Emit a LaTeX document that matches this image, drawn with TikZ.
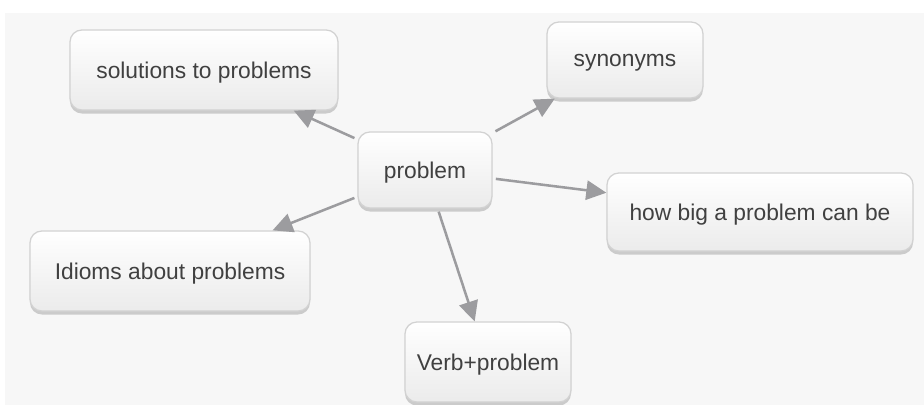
\documentclass[tikz,border=0pt]{standalone}
\usepackage{fontspec}
\setmainfont{Liberation Sans}
\usetikzlibrary{arrows.meta, positioning, shadows}
\definecolor{canvas}{HTML}{F7F7F7}
\definecolor{boxline}{HTML}{D2D2D2}
\definecolor{boxbot}{HTML}{EBEBEB}
\definecolor{ink}{HTML}{404040}
\definecolor{linkgray}{HTML}{9C9C9F}

\begin{document}
\begin{tikzpicture}[x=0.025cm, y=-0.025cm,
    topic/.style={draw=boxline, line width=0.9pt, rounded corners=0.3cm,
        top color=white, bottom color=boxbot, text=ink, inner sep=0pt,
        font=\fontsize{16.2}{19}\selectfont, text depth=0pt,
        drop shadow={shadow xshift=0pt, shadow yshift=-2.5pt, opacity=0.3, fill=black!60}},
    link/.style={draw=linkgray, line width=1.8pt, shorten <=0.08cm,
        -{Triangle[length=0.5cm, width=0.48cm]}}
]
    \useasboundingbox (0,0) rectangle (924,405);
    \fill[white] (0,0) rectangle (924,405);
    \fill[canvas] (5,13) rectangle (924,405);

    \node[topic, minimum width=3.35cm, minimum height=1.9cm] (problem) at (425,170) {problem};
    \node[topic, minimum width=6.7cm, minimum height=2.0cm] (solutions) at (204,70) {solutions to problems};
    \node[topic, minimum width=3.9cm, minimum height=1.9cm] (synonyms) at (625,60) {synonyms};
    \node[topic, minimum width=7.65cm, minimum height=1.95cm] (howbig) at (760,212) {how big a problem can be};
    \node[topic, minimum width=7.0cm, minimum height=2.0cm] (idioms) at (170,271) {Idioms about problems};
    \node[topic, minimum width=4.15cm, minimum height=2.0cm] (verb) at (488,362) {Verb+problem};

    \draw[link] (problem) -- (solutions);
    \draw[link] (problem) -- (synonyms);
    \draw[link] (problem) -- (howbig);
    \draw[link] (problem) -- (idioms);
    \draw[link] (problem) -- (verb);
\end{tikzpicture}
\end{document}
